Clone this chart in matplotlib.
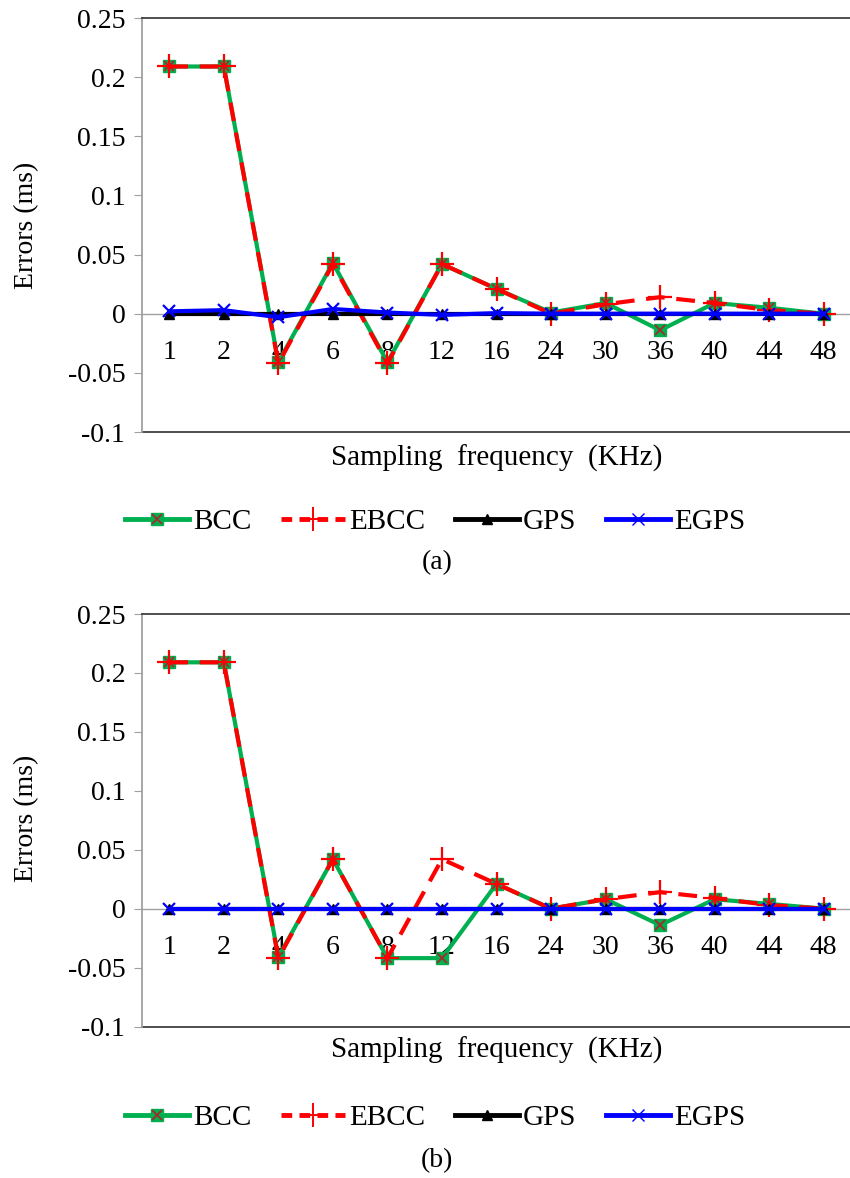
import matplotlib
matplotlib.use("Agg")
import matplotlib.pyplot as plt
from matplotlib.legend_handler import HandlerTuple

plt.rcParams["font.family"] = ["Liberation Serif", "DejaVu Serif"]

# Sampling frequencies (KHz), used as categories
freqs = ["1", "2", "4", "6", "8", "12", "16", "24", "30", "36", "40", "44", "48"]

# Errors (ms) for panel (a)
bcc_a = [0.209, 0.209, -0.041, 0.043, -0.041, 0.042, 0.021, 0.001, 0.009, -0.014, 0.009, 0.005, 0.0]
ebcc_a = [0.209, 0.209, -0.042, 0.042, -0.042, 0.042, 0.021, 0.0, 0.008, 0.014, 0.009, 0.003, 0.0]
gps_a = [0.0, 0.0, 0.0, 0.0, 0.0, 0.0, 0.0, 0.0, 0.0, 0.0, 0.0, 0.0, 0.0]
egps_a = [0.002, 0.003, -0.003, 0.004, 0.001, -0.001, 0.0005, 0.0, 0.0, 0.0, 0.0, 0.0, 0.0]

# Errors (ms) for panel (b)
bcc_b = [0.209, 0.209, -0.041, 0.042, -0.042, -0.042, 0.021, 0.0, 0.008, -0.014, 0.008, 0.004, 0.0]
ebcc_b = [0.209, 0.209, -0.042, 0.042, -0.042, 0.042, 0.021, 0.0, 0.008, 0.014, 0.009, 0.003, 0.0]
gps_b = [0.0, 0.0, 0.0, 0.0, 0.0, 0.0, 0.0, 0.0, 0.0, 0.0, 0.0, 0.0, 0.0]
egps_b = [0.0, 0.0, 0.0, 0.0, 0.0, 0.0, 0.0, 0.0, 0.0, 0.0, 0.0, 0.0, 0.0]

yticks = [-0.1, -0.05, 0, 0.05, 0.1, 0.15, 0.2, 0.25]
ytick_labels = ["-0.1", "-0.05", "0", "0.05", "0.1", "0.15", "0.2", "0.25"]

GREEN = "#00B050"
RED = "#FF0000"
BLUE = "#0000FF"
XRED = "#A52A2A"
FS = 20

W, H = 850, 1178
fig = plt.figure(figsize=(W / 100, H / 100), dpi=100)


def panel(rect, bcc, ebcc, gps, egps, tag, xlab_y, leg_y, tag_y, ylab_y):
    ax = fig.add_axes(rect)
    x = list(range(len(freqs)))
    ax.plot(x, bcc, color=GREEN, lw=3, zorder=3)
    ax.plot(x, bcc, ls="none", marker="s", ms=8, mfc=GREEN, mec=GREEN, zorder=3)
    ax.plot(x, bcc, ls="none", marker="x", ms=7, mew=1.3, color=XRED, zorder=3)
    ax.plot(x, ebcc, color=RED, lw=3, ls=(0, (4.5, 2.8)), marker="+", ms=17, mew=1.6, zorder=4)
    ax.plot(x, gps, color="black", lw=3, marker="^", ms=7, zorder=5)
    ax.plot(x, egps, color=BLUE, lw=3, marker="x", ms=8, mew=1.6, zorder=6)

    ax.set_xlim(-0.5, len(freqs) - 0.5)
    ax.set_ylim(-0.1, 0.25)
    ax.set_yticks(yticks)
    ax.set_yticklabels(ytick_labels, fontsize=FS)
    ax.tick_params(axis="y", length=6, color="#A0A0A0", pad=6)

    # category axis crosses at zero, labels sit just below it
    ax.spines["bottom"].set_position(("data", 0))
    ax.spines["bottom"].set_color("#A0A0A0")
    ax.spines["bottom"].set_linewidth(1.0)
    ax.set_xticks(x)
    ax.set_xticklabels(freqs, fontsize=FS)
    ax.tick_params(axis="x", length=0, pad=19)
    ax.spines["left"].set_color("#A0A0A0")
    ax.spines["left"].set_linewidth(1.3)
    ax.spines["top"].set_color("#404040")
    ax.spines["top"].set_linewidth(1.3)
    ax.spines["right"].set_visible(False)
    # plot-area bottom border
    ax.plot([0, 1], [0, 0], transform=ax.transAxes, color="#404040", lw=1.3, clip_on=False)

    fig.text(497 / W, 1 - xlab_y / H, "Sampling  frequency  (KHz)", fontsize=21,
             ha="center", va="center")
    fig.text(27 / W, 1 - ylab_y / H, "Errors (ms)", fontsize=FS, rotation=90,
             ha="center", va="center")
    fig.text(437 / W, 1 - tag_y / H, tag, fontsize=FS, ha="center", va="center")

    h_bcc = (plt.Line2D([], [], color=GREEN, lw=3.5, marker="s", ms=8, mfc=GREEN, mec=GREEN),
             plt.Line2D([], [], ls="none", marker="x", ms=7, mew=1.3, color=XRED))
    h_ebcc = plt.Line2D([], [], color=RED, lw=3.5, ls=(0, (2.2, 1.5)), marker="+", ms=17, mew=1.4)
    h_gps = plt.Line2D([], [], color="black", lw=3.5, marker="^", ms=7)
    h_egps = plt.Line2D([], [], color=BLUE, lw=3.5, marker="x", ms=8, mew=1.0)
    fig.legend([h_bcc, h_ebcc, h_gps, h_egps], ["BCC", "EBCC", "GPS", "EGPS"],
               handler_map={tuple: HandlerTuple(ndivide=1)},
               loc="center", bbox_to_anchor=(435 / W, 1 - leg_y / H), ncol=4,
               frameon=False, fontsize=21, handlelength=2.2, handletextpad=0.15,
               columnspacing=1.0)
    return ax


panel([142 / W, 1 - 432 / H, (851 - 142) / W, 414 / H],
      bcc_a, ebcc_a, gps_a, egps_a, "(a)", 458, 522, 563, 225)
panel([142 / W, 1 - 1026.5 / H, (851 - 142) / W, 412.5 / H],
      bcc_b, ebcc_b, gps_b, egps_b, "(b)", 1050, 1118, 1161, 818)

fig.savefig("out.png", dpi=100)
